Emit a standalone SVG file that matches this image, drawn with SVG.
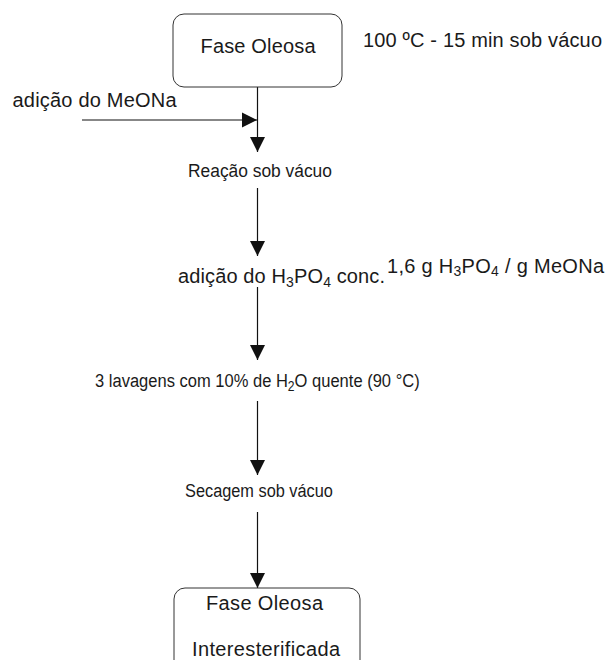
<svg xmlns="http://www.w3.org/2000/svg" width="608" height="660" viewBox="0 0 608 660">
<style>
text{font-family:"Liberation Sans",Arial,sans-serif;font-size:20px;fill:#1a1a1a}
.n{font-size:19px}
.box{fill:#fff;stroke:#333;stroke-width:1}
.ln{stroke:#111;stroke-width:1.2;fill:none}
.sub{font-size:14px}
</style>
<defs>
<marker id="ah" viewBox="0 0 10 10" refX="10" refY="5" markerWidth="15" markerHeight="16" markerUnits="userSpaceOnUse" orient="auto">
<path d="M0,0 L10,5 L0,10 Z" fill="#111"/>
</marker>
</defs>
<rect width="608" height="660" fill="#fff"/>
<g id="connectors">
<line class="ln" x1="257.5" y1="87" x2="257.5" y2="152" marker-end="url(#ah)"/>
<line class="ln" x1="82" y1="120" x2="257" y2="120" marker-end="url(#ah)"/>
<line class="ln" x1="257.5" y1="188" x2="257.5" y2="256" marker-end="url(#ah)"/>
<line class="ln" x1="257.5" y1="287" x2="257.5" y2="360" marker-end="url(#ah)"/>
<line class="ln" x1="257.5" y1="401" x2="257.5" y2="475" marker-end="url(#ah)"/>
<line class="ln" x1="257.5" y1="512" x2="257.5" y2="588" marker-end="url(#ah)"/>
</g>
<g id="n1">
<rect class="box" x="173" y="14" width="169" height="73" rx="11"/>
<text x="200.5" y="53" textLength="115">Fase Oleosa</text>
</g>
<g id="n1note"><text x="363" y="47" textLength="239">100 ºC - 15 min sob vácuo</text></g>
<g id="n2"><text x="12.5" y="107" textLength="164">adição do MeONa</text></g>
<g id="n3" transform="translate(188,177) scale(0.915,1)"><text class="n" x="0" y="0">Reação sob vácuo</text></g>
<g id="n4"><text x="178" y="283" textLength="207">adição do H<tspan class="sub" dy="4">3</tspan><tspan dy="-4">PO</tspan><tspan class="sub" dy="4">4</tspan><tspan dy="-4"> conc.</tspan></text></g>
<g id="n4note"><text x="387" y="273" textLength="217">1,6 g H<tspan class="sub" dy="3">3</tspan><tspan dy="-3">PO</tspan><tspan class="sub" dy="3">4</tspan><tspan dy="-3"> / g MeONa</tspan></text></g>
<g id="n5" transform="translate(95,387) scale(0.87,1)"><text class="n" x="0" y="0">3 lavagens com 10% de H<tspan class="sub" dy="4">2</tspan><tspan dy="-4">O quente (90 °C)</tspan></text></g>
<g id="n6" transform="translate(185,497) scale(0.86,1)"><text class="n" x="0" y="0">Secagem sob vácuo</text></g>
<g id="n7">
<rect class="box" x="174" y="588" width="186" height="90" rx="11"/>
<text x="206" y="610" textLength="117">Fase Oleosa</text>
<text x="192" y="656" textLength="148">Interesterificada</text>
</g>
</svg>
